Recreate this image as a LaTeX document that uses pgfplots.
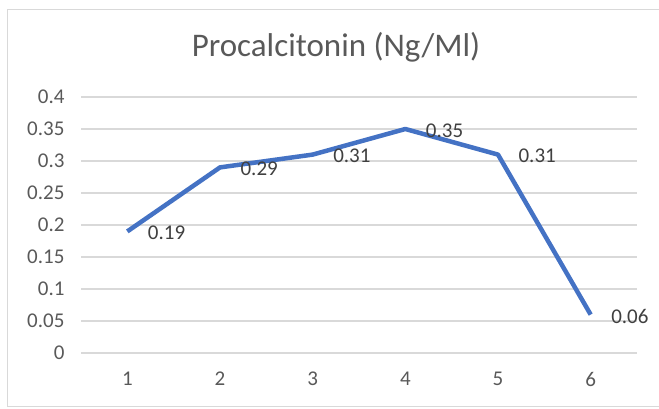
\documentclass[border=0pt]{standalone}
\usepackage{fontspec}
\setmainfont{Carlito}
\usepackage{pgfplots}
\pgfplotsset{compat=1.18}
\definecolor{serie}{HTML}{4472C4}
\definecolor{gridc}{HTML}{D9D9D9}
\definecolor{txt}{HTML}{595959}
\definecolor{lbl}{HTML}{404040}
\begin{document}
\begin{tikzpicture}[x=1pt,y=1pt]
\useasboundingbox (0,0) rectangle (659,408);
\draw[gridc, line width=1pt] (7.5,2) rectangle (670,398);
\node[txt, font=\fontsize{33}{40}\selectfont] at (336,361) {Procalcitonin (Ng/Ml)};
\begin{axis}[
  at={(81pt,55pt)}, anchor=south west,
  scale only axis, width=556pt, height=256pt,
  xmin=0.5, xmax=6.5, ymin=0, ymax=0.4,
  xtick={1,2,3,4,5,6},
  ytick={0,0.05,0.1,0.15,0.2,0.25,0.3,0.35,0.4},
  yticklabels={0,0.05,0.1,0.15,0.2,0.25,0.3,0.35,0.4},
  axis line style={draw=none},
  major tick length=0pt, tick style={draw=none},
  ymajorgrids, grid style={gridc, line width=1.2pt},
  /pgf/number format/assume math mode=true,
  ticklabel style={txt, font=\fontsize{21}{25}\selectfont},
  xticklabel style={yshift=-15.5pt},
  yticklabel style={xshift=-13pt},
  clip=false,
  point meta=explicit symbolic,
  nodes near coords,
  every node near coord/.append style={anchor=west, xshift=15pt, yshift=-1.5pt, lbl, font=\fontsize{21}{25}\selectfont},
]
\addplot[serie, line width=4.5pt, line join=round, mark=none] coordinates {
(1,0.19)[0.19] (2,0.29)[0.29] (3,0.31)[0.31] (4,0.35)[0.35] (5,0.31)[0.31] (6,0.06)[0.06]
};
\end{axis}
\end{tikzpicture}
\end{document}
